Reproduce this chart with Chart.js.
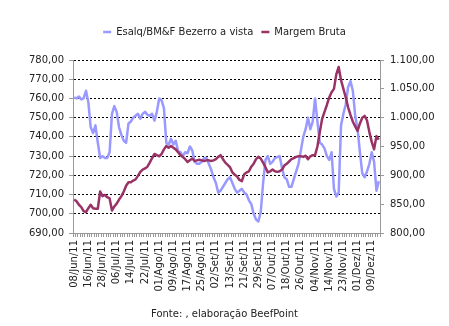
<!DOCTYPE html>
<html>
<head>
<meta charset="utf-8">
<script src="https://cdn.jsdelivr.net/npm/chart.js@4.4.0/dist/chart.umd.min.js"></script>
<style>
  html, body { margin: 0; background: #fff; }
  canvas { display: block; }
</style>
</head>
<body>
<canvas id="chart" width="449" height="326"></canvas>
<script>
// ── data ──
const tickLabels = ['08/Jun/11','16/Jun/11','28/Jun/11','06/Jul/11','14/Jul/11','22/Jul/11',
  '01/Ago/11','09/Ago/11','17/Ago/11','25/Ago/11','02/Set/11','13/Set/11','21/Set/11',
  '29/Set/11','07/Out/11','18/Out/11','26/Out/11','04/Nov/11','14/Nov/11','23/Nov/11',
  '01/Dez/11','09/Dez/11'];
const labelEvery = 6;

const esalq = [
  760.5,760,761,759.5,760,764,758,745,742,746,
  737,729,730,729,729,732,752,756,753,745,
  741,738,737,747,748,750,751,752,749.5,752,
  753,751.5,751,752,748.5,753,760,759,755,737,
  736,739,736,738,732.5,732,730,732,731.5,735,
  733,727,726,726,727,729,729,726,723,719,
  716,711,712,714,716,718,719,716,713,711,
  712,713,711,710,707,705,700,697,696,701,
  716,728,730,726,727,729,729.5,730,724,719,
  718,714,714,718,722,726,733,740,744,750,
  744,748,760,748,737,736,734,730,728,732,
  713,709,711,746,752,757,766,769,764,751,
  744,732,721,719,722,726,732,727,712,717
];

const margem = [
  858,855,849,845,838,836,843,849,843,842,
  842,872,864,866,862,860,839,846,851,858,
  864,872,882,888,888,891,893,899,906,910,
  912,915,922,930,937,935,933,937,945,951,
  948,951,948,945,940,935,932,928,923,926,
  929,925,926,927,926,925,926,926,925,926,
  928,932,935,928,922,918,914,905,901,898,
  892,890,902,905,907,915,920,928,932,929,
  922,914,905,907,910,907,906,907,910,917,
  920,924,928,930,932,933,933,932,934,928,
  933,935,935,950,975,998,1010,1022,1035,1044,
  1050,1075,1088,1065,1050,1035,1018,1005,993,985,
  977,990,1000,1003,995,975,958,945,968,962
];

// one category per day, only every 6th one gets a label
const labels = esalq.map((_, i) => i % labelEvery === 0 ? (tickLabels[i / labelEvery] || '') : '');

const FONT = { family: 'DejaVu Sans', size: 10 };
const TEXT = '#222';
const AXIS = '#999';

function fmtBR(v) {
  const [i, d] = Number(v).toFixed(2).split('.');
  return i.replace(/\B(?=(\d{3})+(?!\d))/g, '.') + ',' + d;
}

// extra room between legend and plot
const legendGap = {
  id: 'legendGap',
  beforeInit(chart) {
    const fit = chart.legend.fit;
    chart.legend.fit = function () {
      fit.bind(chart.legend)();
      this.height += 13;
    };
  }
};

new Chart(document.getElementById('chart'), {
  type: 'line',
  data: {
    labels,
    datasets: [
      { label: 'Esalq/BM&F Bezerro a vista', data: esalq, yAxisID: 'y',
        borderColor: '#9999FF', backgroundColor: '#9999FF', borderWidth: 2.5,
        pointRadius: 0, tension: 0, borderJoinStyle: 'round', order: 1 },
      { label: 'Margem Bruta', data: margem, yAxisID: 'y2',
        borderColor: '#993366', backgroundColor: '#993366', borderWidth: 2.5,
        pointRadius: 0, tension: 0, borderJoinStyle: 'round', order: 0 }
    ]
  },
  options: {
    responsive: false,
    animation: false,
    layout: { padding: { top: 19, left: 0, right: 0, bottom: 0 } },
    plugins: {
      legend: {
        position: 'top',
        labels: { font: FONT, color: TEXT, usePointStyle: true, pointStyle: 'line',
                  pointStyleWidth: 8, padding: 8,
                  sort: (a, b) => a.datasetIndex - b.datasetIndex }
      },
      title: {
        display: true, position: 'bottom', text: 'Fonte: , elaboração BeefPoint',
        font: { ...FONT, weight: 'normal' }, color: TEXT, padding: { top: 10, bottom: 6 }
      },
      tooltip: { enabled: false }
    },
    scales: {
      x: {
        offset: true,
        grid: { drawOnChartArea: false, drawTicks: true, tickLength: 4, color: AXIS, offset: true },
        border: { color: AXIS, z: 1 },
        ticks: { autoSkip: false, minRotation: 90, maxRotation: 90, padding: 3, font: FONT, color: TEXT },
        afterFit(s) { s.height = 65; }
      },
      y: {
        position: 'left', min: 690, max: 780,
        ticks: { stepSize: 10, callback: fmtBR, padding: 5, font: FONT, color: TEXT },
        grid: { display: true, drawOnChartArea: true, lineWidth: 1,
                color: 'rgba(0,0,0,1)', tickColor: AXIS, tickLength: 4, tickBorderDash: [] },
        border: { color: AXIS, dash: [2, 2] },
        afterFit(s) { s.width = 73; }
      },
      y2: {
        position: 'right', min: 800, max: 1100,
        ticks: { stepSize: 50, callback: fmtBR, padding: 6, font: FONT, color: TEXT },
        grid: { drawOnChartArea: false, tickColor: AXIS, tickLength: 4 },
        border: { color: AXIS },
        afterFit(s) { s.width = 69; }
      }
    }
  },
  plugins: [legendGap]
});
</script>
</body>
</html>
